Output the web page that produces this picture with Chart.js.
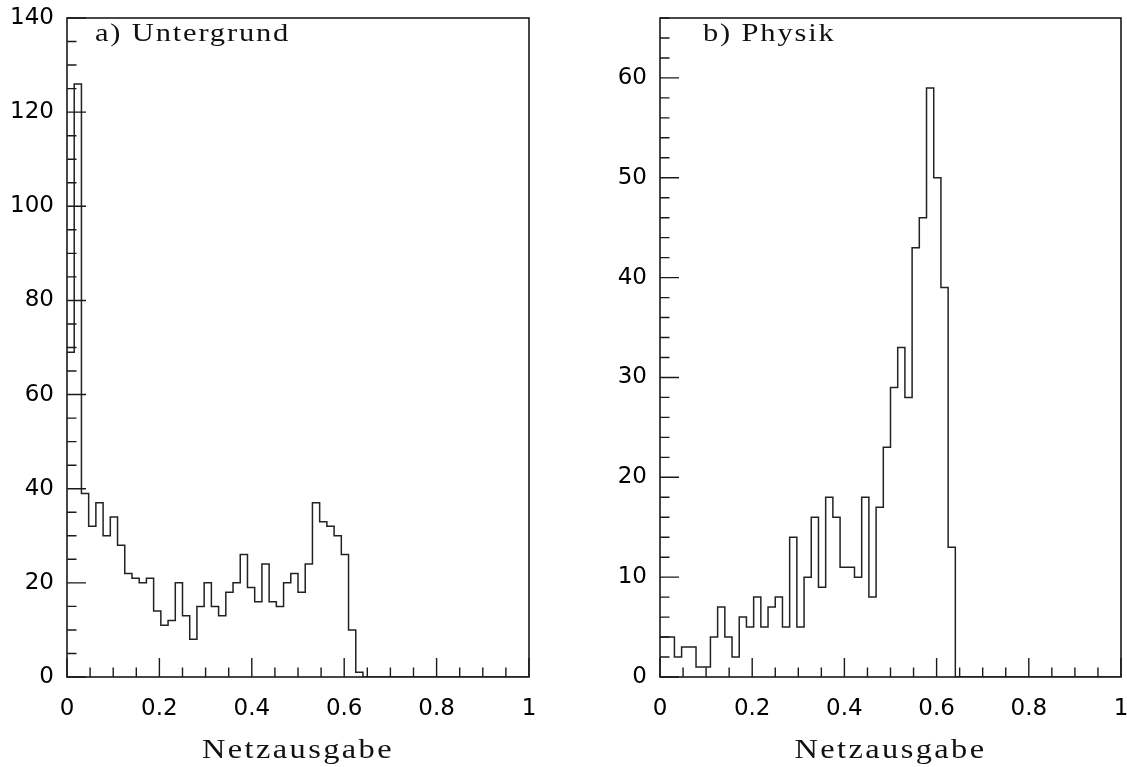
<!DOCTYPE html>
<html>
<head>
<meta charset="utf-8">
<script src="https://cdn.jsdelivr.net/npm/chart.js@4.4.0/dist/chart.umd.min.js"></script>
<style>
  html, body { margin: 0; padding: 0; background: #fff; }
  canvas { position: absolute; top: 0; }
  #chartA { left: 0; }
  #chartB { left: 563px; }
</style>
</head>
<body>
<canvas id="chartA" width="563" height="767"></canvas>
<canvas id="chartB" width="564" height="767"></canvas>
<script>
// network output histograms, 64 bins between 0 and 1
const nBins = 64;
const xMin = 0, xMax = 1;

const untergrund = [
  69, 126, 39, 32, 37, 30, 34, 28, 22, 21, 20, 21, 14, 11, 12, 20,
  13, 8, 15, 20, 15, 13, 18, 20, 26, 19, 16, 24, 16, 15, 20, 22,
  18, 24, 37, 33, 32, 30, 26, 10, 1, 0, 0, 0, 0, 0, 0, 0,
  0, 0, 0, 0, 0, 0, 0, 0, 0, 0, 0, 0, 0, 0, 0, 0
];
const physik = [
  4, 4, 2, 3, 3, 1, 1, 4, 7, 4, 2, 6, 5, 8, 5, 7,
  8, 5, 14, 5, 10, 16, 9, 18, 16, 11, 11, 10, 18, 8, 17, 23,
  29, 33, 28, 43, 46, 59, 50, 39, 13, 0, 0, 0, 0, 0, 0, 0,
  0, 0, 0, 0, 0, 0, 0, 0, 0, 0, 0, 0, 0, 0, 0, 0
];

const xTickStep = 0.2;
const titles = ['a) Untergrund', 'b) Physik'];
const xTitle = 'Netzausgabe';

function histPoints(values) {
  const w = (xMax - xMin) / nBins;
  const pts = values.map((v, i) => ({ x: xMin + i * w, y: v }));
  pts.push({ x: xMax, y: values[values.length - 1] });
  return pts;
}

// wide serif text, stretched sideways like the old plotter output
function wideText(ctx, text, x, y, size, stretch, spacing, align) {
  ctx.save();
  ctx.font = size + 'px "Liberation Serif"';
  ctx.letterSpacing = spacing + 'px';
  ctx.textBaseline = 'alphabetic';
  ctx.textAlign = 'left';
  const w = ctx.measureText(text).width * stretch;
  const x0 = align === 'center' ? x - w / 2 : x;
  ctx.translate(x0, y);
  ctx.scale(stretch, 1);
  ctx.fillText(text, 0, 0);
  ctx.restore();
}

// box, inward tick marks and the serif labels
const pawFrame = {
  id: 'paw',
  afterDatasetsDraw(chart, args, opts) {
    const { ctx, chartArea: a, scales: { x, y } } = chart;
    ctx.save();
    ctx.strokeStyle = '#1a1a1a';
    ctx.lineWidth = 1.6;
    ctx.strokeRect(a.left, a.top, a.right - a.left, a.bottom - a.top);

    ctx.lineWidth = 1.4;
    ctx.beginPath();
    for (let k = 0; k <= 20; k++) {
      const px = x.getPixelForValue(k * 0.05);
      const len = k % 4 === 0 ? 19 : 9.5;
      ctx.moveTo(px, a.bottom);
      ctx.lineTo(px, a.bottom - len);
    }
    for (let k = 0; k * opts.yMinor <= y.max; k++) {
      const py = y.getPixelForValue(k * opts.yMinor);
      const len = k % opts.yDiv === 0 ? 19 : 9.5;
      ctx.moveTo(a.left, py);
      ctx.lineTo(a.left + len, py);
    }
    ctx.stroke();
    ctx.restore();

    ctx.fillStyle = '#111';
    wideText(ctx, opts.label, a.left + opts.labelDx, a.top + 23, 25, 1.22, 1.5, 'left');
    wideText(ctx, xTitle, (a.left + a.right) / 2, 758, 27, 1.2, 2, 'center');
  }
};

function makeChart(id, values, yMax, yStep, yMinor, yDiv, yWidth, padRight, label, labelDx) {
  return new Chart(document.getElementById(id), {
    type: 'line',
    data: {
      datasets: [{
        data: histPoints(values),
        stepped: true,
        borderColor: '#222',
        borderWidth: 1.5,
        pointRadius: 0,
        fill: false
      }]
    },
    options: {
      responsive: false,
      animation: false,
      layout: { padding: { top: 18, right: padRight, bottom: 0, left: 0 } },
      plugins: {
        legend: { display: false },
        tooltip: { enabled: false },
        paw: { yMinor: yMinor, yDiv: yDiv, label: label, labelDx: labelDx }
      },
      scales: {
        x: {
          type: 'linear',
          min: xMin,
          max: xMax,
          grid: { display: false, drawTicks: false },
          border: { display: false },
          ticks: {
            stepSize: xTickStep,
            padding: 18,
            maxRotation: 0,
            color: '#000',
            font: { family: 'DejaVu Sans', size: 23 },
            callback: v => String(+v.toFixed(2))
          },
          afterFit: s => { s.height = 90; s.paddingLeft = 0; s.paddingRight = 0; }
        },
        y: {
          min: 0,
          max: yMax,
          grid: { display: false, drawTicks: false },
          border: { display: false },
          ticks: {
            stepSize: yStep,
            includeBounds: false,
            padding: 13,
            color: '#000',
            font: { family: 'DejaVu Sans', size: 23 }
          },
          afterFit: s => { s.width = yWidth; s.paddingTop = 0; s.paddingBottom = 0; }
        }
      }
    },
    plugins: [pawFrame]
  });
}

makeChart('chartA', untergrund, 140, 20, 5, 4, 67, 34, titles[0], 28);
makeChart('chartB', physik, 66, 10, 2, 5, 97, 6, titles[1], 43);
</script>
</body>
</html>
